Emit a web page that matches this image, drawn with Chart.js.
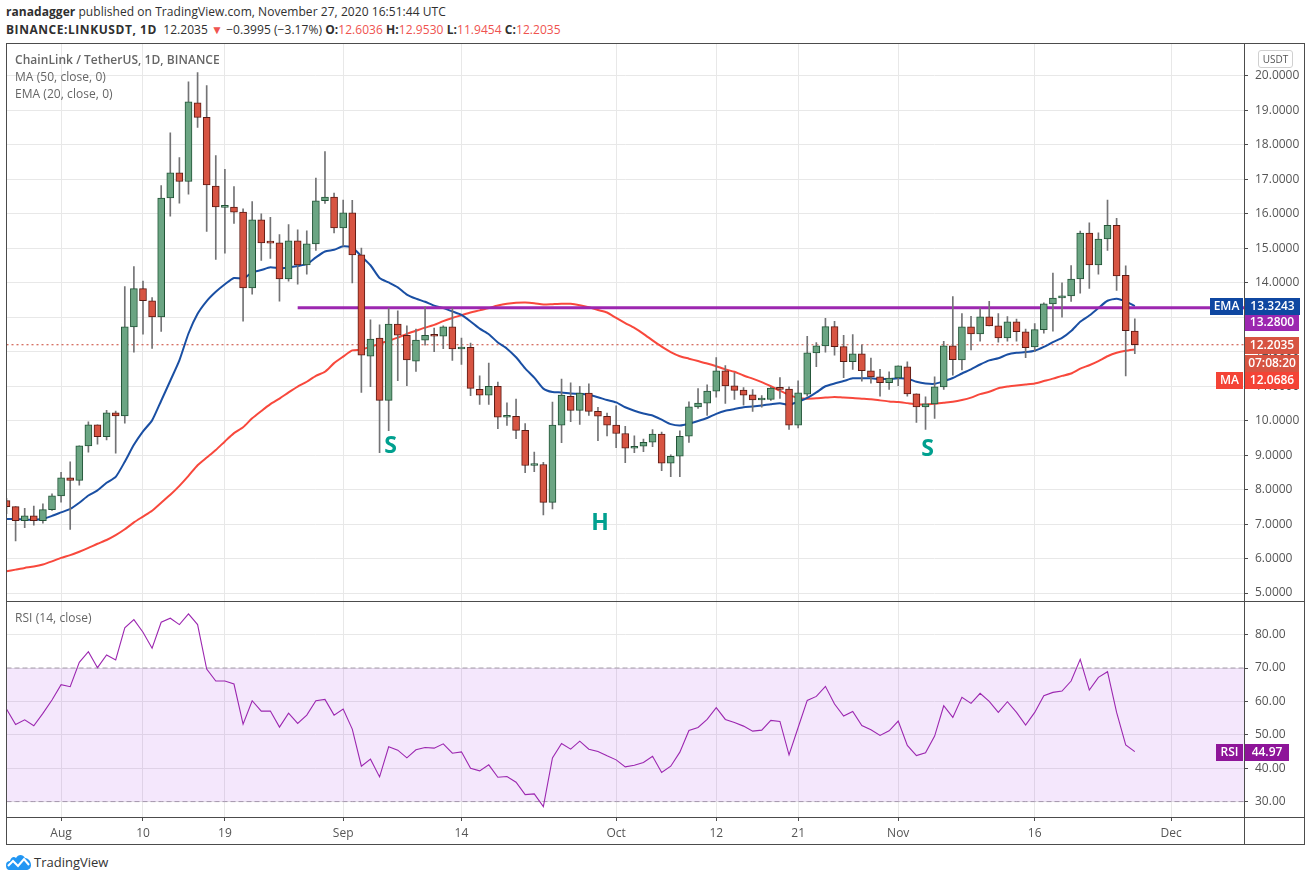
<!DOCTYPE html>
<html>
<head>
<meta charset="utf-8">
<title>LINKUSDT</title>
<script src="https://cdn.jsdelivr.net/npm/chart.js@4"></script>
<style>
  html, body { margin: 0; padding: 0; background: #fff; }
  body { width: 1311px; height: 881px; position: relative; overflow: hidden; font-family: "Open Sans", sans-serif; color: #4a4a4a; }
  canvas { position: absolute; left: 0; }
  .txt { position: absolute; white-space: nowrap; font-size: 12px; line-height: 16px; }
  .hd { color: #2f2f2f; letter-spacing: 0.05px; }
  .hd b { font-weight: 700; color: #2f2f2f; }
  .hd b.wide { letter-spacing: 0.55px; }
  .hd i { font-style: normal; color: #ef5350; }
  .lbl { color: #666; font-size: 12px; letter-spacing: 0.05px; }
  .line { position: absolute; background: #4c4c4c; }
</style>
</head>
<body>
<div class="txt hd" style="left:6px;top:4px"><b>ranadagger</b> published on TradingView.com, November 27, 2020 16:51:44 UTC</div>
<div class="txt hd" style="left:6px;top:22px"><b class="wide">BINANCE:LINKUSDT, 1D</b>&nbsp; 12.2035 <span style="color:#ef5350">▼</span> −0.3995 (−3.17%) <b>O:</b><i>12.6036</i> <b>H:</b><i>12.9530</i> <b>L:</b><i>11.9454</i> <b>C:</b><i>12.2035</i></div>
<canvas id="priceChart" width="1311" height="630" style="top:0"></canvas>
<canvas id="rsiChart" width="1311" height="845" style="top:0"></canvas>
<div class="txt lbl" style="left:15px;top:52px;font-weight:600">ChainLink / TetherUS, 1D, BINANCE</div>
<div class="txt lbl" style="left:15px;top:69px">MA (50, close, 0)</div>
<div class="txt lbl" style="left:15px;top:86px">EMA (20, close, 0)</div>
<div class="txt lbl" style="left:15px;top:610px">RSI (14, close)</div>
<div class="txt" style="left:1258px;top:50px;width:33px;height:16px;border:1px solid #d0d0d0;border-radius:3px;font-size:10px;text-align:center;color:#555">USDT</div>
<div class="line" style="left:6px;top:43px;width:1299px;height:1px"></div>
<div class="line" style="left:6px;top:844px;width:1299px;height:1px"></div>
<div class="line" style="left:6px;top:43px;width:1px;height:802px"></div>
<div class="line" style="left:1304px;top:43px;width:1px;height:802px"></div>
<div class="line" style="left:1244px;top:43px;width:1px;height:802px"></div>
<div class="line" style="left:6px;top:601px;width:1299px;height:1px"></div>
<div class="line" style="left:6px;top:817px;width:1299px;height:1px"></div>
<svg style="position:absolute;left:6px;top:854px" width="25" height="16" viewBox="0 0 25 16">
  <path d="M0 11 C0 8 2 7 4 7 C5 3 8 2 10 4 C12 0 17 0 19 4 C22 4 25 7 25 11 C25 14 23 16 20 16 L4 16 C1 16 0 14 0 11 Z" fill="#2196f3"/>
  <path d="M2 12 L7 7 L12 12 L18 5 L23 11" fill="none" stroke="#fff" stroke-width="2"/>
</svg>
<div class="txt" style="left:34px;top:854px;font-size:13px;color:#333">TradingView</div>

<script>
// candles: Jul 26 - Nov 27 2020, daily
const open = [7.68,7.51,7.10,7.24,7.10,7.42,7.82,8.34,8.27,9.27,
  9.88,9.54,10.23,10.14,12.72,13.83,13.48,13.01,16.46,17.19,
  16.94,19.22,18.80,16.81,16.19,16.20,16.05,13.85,15.83,15.16,
  15.16,14.11,15.22,14.52,15.13,16.38,16.49,15.59,16.03,14.81,
  11.87,12.40,10.59,12.80,12.48,11.73,12.34,12.48,12.45,12.72,
  12.08,12.13,10.91,10.74,11.00,10.10,10.13,9.72,8.70,8.73,
  7.63,9.87,10.71,10.30,10.80,10.27,10.13,9.87,9.63,9.20,
  9.26,9.38,9.61,8.77,8.97,9.55,10.40,10.51,10.86,11.45,
  11.01,10.89,10.75,10.60,10.62,10.95,10.92,9.87,10.77,11.97,
  12.17,12.73,12.15,11.71,11.94,11.45,11.27,11.10,11.24,11.56,
  10.78,10.40,10.49,10.98,12.17,11.76,12.72,12.52,13.01,12.75,
  12.40,12.87,12.58,12.14,12.64,13.39,13.56,13.62,14.11,15.44,
  14.52,15.27,15.67,14.22,12.6036];
const high = [7.75,7.51,7.46,7.52,7.59,7.88,8.50,8.81,9.27,9.97,
  9.88,10.30,10.28,13.89,14.47,14.05,13.57,16.82,18.35,17.63,
  19.83,20.10,19.72,17.69,17.29,16.79,16.15,16.36,16.00,15.90,
  15.40,15.69,15.54,15.51,17.04,17.81,16.60,16.40,16.39,15.01,
  12.93,12.78,13.27,13.19,12.75,12.66,13.30,12.69,12.75,13.27,
  12.40,12.25,11.30,11.67,11.12,10.52,10.63,9.92,9.09,8.79,
  10.54,11.21,11.10,11.00,11.07,10.39,10.22,10.43,9.84,9.56,
  9.47,9.74,9.67,9.01,9.71,10.55,10.93,11.04,11.83,11.60,
  11.39,10.96,10.90,10.73,10.98,11.25,10.98,11.16,12.45,12.27,
  12.97,12.88,12.48,12.50,12.20,11.82,11.49,11.42,11.59,11.71,
  10.78,10.69,11.27,12.30,13.60,13.11,13.03,13.27,13.46,13.11,
  13.02,12.95,12.66,12.82,13.42,14.28,14.00,14.50,15.50,15.74,
  15.45,16.40,15.87,14.49,12.953];
const low = [7.30,6.51,6.90,6.97,7.03,7.40,7.64,6.85,8.13,9.09,
  9.32,9.44,9.06,9.93,11.99,12.51,12.10,12.59,15.93,16.31,
  16.57,18.51,15.49,14.68,14.86,15.72,12.89,13.67,14.65,14.71,
  13.47,14.05,13.96,14.25,14.94,16.30,15.45,15.06,14.00,10.82,
  10.99,9.07,9.71,11.16,11.02,11.43,12.19,12.00,12.09,11.75,
  11.63,10.73,10.47,10.47,9.77,9.86,9.48,8.49,8.52,7.27,
  7.44,9.36,9.97,9.89,10.15,9.42,9.56,9.22,8.78,9.07,
  9.10,9.25,8.55,8.38,8.38,9.37,10.36,10.15,10.68,10.50,
  10.62,10.45,10.27,10.39,10.59,10.65,9.75,9.79,10.71,11.57,
  11.99,11.90,11.25,11.49,11.15,11.09,10.71,10.91,11.02,10.71,
  9.95,9.75,10.07,10.91,11.32,11.47,12.05,12.31,12.75,12.28,
  12.31,12.31,11.83,12.00,12.54,12.60,13.00,13.46,13.70,13.84,
  14.25,14.94,13.78,11.30,11.9454];
const close = [7.51,7.10,7.24,7.10,7.42,7.82,8.34,8.27,9.27,9.88,
  9.54,10.23,10.14,12.72,13.83,13.48,13.01,16.46,17.19,16.94,
  19.25,18.80,16.84,16.20,16.20,16.05,13.85,15.83,15.16,15.15,
  14.11,15.22,14.52,15.13,16.38,16.49,15.59,16.03,14.81,11.90,
  12.37,10.59,12.80,12.48,11.76,12.34,12.48,12.45,12.72,12.08,
  12.13,10.94,10.74,11.00,10.10,10.13,9.72,8.70,8.73,7.63,
  9.87,10.74,10.30,10.80,10.27,10.13,9.87,9.63,9.20,9.26,
  9.37,9.61,8.77,8.97,9.55,10.40,10.51,10.86,11.45,11.01,
  10.88,10.74,10.60,10.63,10.95,10.91,9.87,10.81,11.97,12.17,
  12.73,12.15,11.71,11.94,11.45,11.27,11.10,11.24,11.59,10.78,
  10.40,10.49,10.98,12.17,11.77,12.72,12.52,13.01,12.75,12.40,
  12.87,12.58,12.12,12.64,13.39,13.56,13.62,14.11,15.44,14.52,
  15.27,15.67,14.20,12.61,12.2035];
const ema20 = [7.15,7.15,7.13,7.13,7.15,7.24,7.34,7.44,7.62,7.83,
  7.98,8.20,8.37,8.81,9.30,9.69,10.01,10.58,11.16,11.75,
  12.53,13.10,13.47,13.74,13.96,14.14,14.12,14.30,14.37,14.45,
  14.42,14.45,14.49,14.54,14.74,14.91,14.96,15.06,15.03,14.77,
  14.51,14.14,14.01,13.87,13.66,13.54,13.45,13.34,13.27,13.17,
  13.07,12.88,12.67,12.51,12.27,12.09,11.84,11.52,11.25,10.93,
  10.83,10.82,10.79,10.78,10.75,10.68,10.60,10.53,10.39,10.29,
  10.21,10.15,10.03,9.90,9.86,9.91,9.99,10.08,10.20,10.29,
  10.34,10.39,10.41,10.44,10.48,10.51,10.46,10.55,10.66,10.82,
  11.00,11.08,11.15,11.23,11.23,11.23,11.21,11.21,11.23,11.22,
  11.13,11.08,11.07,11.15,11.24,11.37,11.49,11.63,11.75,11.81,
  11.92,11.97,11.99,12.03,12.14,12.28,12.40,12.60,12.87,13.05,
  13.27,13.48,13.54,13.46,13.3243];
const ma50 = [5.63,5.68,5.73,5.77,5.83,5.92,6.02,6.10,6.20,6.31,
  6.43,6.54,6.68,6.85,7.05,7.22,7.39,7.62,7.85,8.11,
  8.40,8.71,8.93,9.15,9.40,9.64,9.81,10.07,10.28,10.48,
  10.64,10.82,10.99,11.13,11.30,11.42,11.67,11.86,12.04,12.06,
  12.15,12.23,12.32,12.41,12.52,12.61,12.70,12.78,12.89,12.98,
  13.06,13.14,13.20,13.27,13.34,13.39,13.42,13.43,13.41,13.37,
  13.38,13.39,13.39,13.35,13.29,13.21,13.14,12.98,12.83,12.69,
  12.52,12.33,12.15,11.99,11.87,11.80,11.73,11.66,11.58,11.49,
  11.42,11.31,11.22,11.12,11.00,10.87,10.75,10.66,10.64,10.65,
  10.67,10.69,10.67,10.66,10.64,10.62,10.59,10.56,10.54,10.51,
  10.48,10.47,10.49,10.52,10.55,10.60,10.67,10.77,10.84,10.94,
  10.99,11.02,11.05,11.08,11.15,11.22,11.30,11.37,11.51,11.61,
  11.73,11.87,11.97,12.03,12.0686];
const rsi14 = [57.7,53.1,54.5,52.7,56.4,60.4,65.0,64.4,71.7,74.9,
  70.1,73.9,72.4,82.0,84.5,80.7,75.9,83.7,84.9,83.0,
  86.2,83.0,69.7,66.1,66.1,65.2,53.2,60.2,57.1,57.1,
  52.3,56.5,53.4,55.9,60.2,60.6,55.9,57.7,51.7,40.6,
  42.7,37.4,46.4,45.4,43.1,45.5,46.2,46.0,47.3,44.5,
  44.9,40.0,39.2,41.0,37.3,37.5,35.8,32.1,32.3,28.5,
  43.1,47.4,45.7,48.1,45.7,45.0,43.7,42.5,40.4,40.9,
  41.7,43.6,38.7,40.6,44.8,51.3,52.2,54.6,58.1,54.6,
  53.7,52.6,51.1,51.4,54.3,54.0,44.0,52.2,60.3,61.5,
  64.5,59.2,55.6,57.0,52.8,51.5,49.8,51.2,54.1,46.8,
  43.8,44.6,49.6,58.7,55.2,61.2,59.4,62.4,60.0,56.7,
  59.9,56.7,52.9,56.7,61.7,62.7,63.1,66.1,72.6,63.4,
  67.2,68.9,56.7,47.0,44.97];

const resistance = 13.28;
const lastPrice = 12.2035;
const rsiUpper = 70;
const rsiLower = 30;
const priceTicks = [20,19,18,17,16,15,14,13,12,11,10,9,8,7,6,5];
const rsiTicks = [80,70,60,50,40,30];
const tickDates = ['08-01','08-10','08-19','09-01','09-14','10-01','10-12','10-21','11-01','11-16','12-01'];
const tickLabels = ['Aug','10','19','Sep','14','Oct','12','21','Nov','16','Dec'];
const patternLabels = ['S','H','S'];
const patternDates = ['09-06','09-29','11-04'];
const patternPrices = [9.24,7.03,9.18];

// daily categories, the axis runs on past the last candle
const days = [];
for (let d = new Date(Date.UTC(2020, 6, 26)); d <= new Date(Date.UTC(2020, 11, 9)); d.setUTCDate(d.getUTCDate() + 1)) {
  days.push(d.toISOString().slice(5, 10));
}

const FONT = '"Open Sans", sans-serif';
const GRID = '#e8e8e8';
const AXIS = '#4c4c4c';
const UP = '#6ba583', UP_B = '#225437', DOWN = '#d75442', DOWN_B = '#5b1a13', WICK = '#737375';

function xScale(showTicks) {
  return {
    type: 'category',
    offset: false,
    grid: { offset: false, color: GRID, tickColor: AXIS, drawTicks: showTicks, tickLength: 4 },
    border: { display: false },
    afterBuildTicks: a => { a.ticks = tickDates.map(d => ({ value: days.indexOf(d) })); },
    afterFit: a => { a.height = showTicks ? 28 : 0; },
    ticks: {
      display: showTicks, autoSkip: false, maxRotation: 0, color: '#555', padding: 5,
      font: { family: FONT, size: 12 },
      callback: (v, i) => tickLabels[i]
    }
  };
}

function yScale(min, max, ticks, fmt) {
  return {
    position: 'right', min: min, max: max,
    grid: { color: GRID, tickColor: AXIS, tickLength: 4 },
    border: { display: false },
    afterBuildTicks: a => { a.ticks = ticks.map(v => ({ value: v })); },
    afterFit: a => { a.width = 60; },
    ticks: { color: '#555', padding: 7, align: 'center', font: { family: FONT, size: 12 }, callback: v => v.toFixed(fmt) }
  };
}

function tag(ctx, x, y, w, h, color, text, font) {
  ctx.fillStyle = color;
  ctx.fillRect(x, y, w, h);
  ctx.fillStyle = '#fff';
  ctx.font = font || ('600 12px ' + FONT);
  ctx.textAlign = 'center';
  ctx.textBaseline = 'middle';
  ctx.fillText(text, x + w / 2, y + h / 2);
}

const priceTags = {
  id: 'priceTags',
  afterDraw(chart) {
    const c = chart.ctx;
    const x = chart.scales.x, y = chart.scales.y;
    c.save();
    patternLabels.forEach((t, i) => {
      c.fillStyle = '#00a08f';
      c.font = '700 23px ' + FONT;
      c.textAlign = 'center';
      c.textBaseline = 'middle';
      c.fillText(t, x.getPixelForValue(days.indexOf(patternDates[i])) + 2, y.getPixelForValue(patternPrices[i]));
    });
    const ey = Math.round(y.getPixelForValue(13.3243));
    tag(c, 1210, ey - 8, 33, 17, '#0f47a1', 'EMA');
    tag(c, 1245, ey - 8, 55, 17, '#0f47a1', '13.3243');
    tag(c, 1245, 315, 54, 16, '#9c27b0', resistance.toFixed(4));
    tag(c, 1245, 337, 54, 17, '#d75442', lastPrice.toFixed(4));
    tag(c, 1245, 355, 54, 17, '#d75442', '07:08:20');
    tag(c, 1216, 372, 27, 17, '#f44336', 'MA');
    tag(c, 1245, 372, 54, 17, '#f44336', '12.0686');
    c.restore();
  }
};

const rsiTags = {
  id: 'rsiTags',
  afterDraw(chart) {
    const c = chart.ctx;
    const py = Math.round(chart.scales.y.getPixelForValue(44.97));
    c.save();
    tag(c, 1216, py - 8, 27, 17, '#8e1599', 'RSI');
    tag(c, 1245, py - 8, 44, 17, '#8e1599', '44.97');
    c.restore();
  }
};

const priceChart = new Chart(document.getElementById('priceChart'), {
  type: 'bar',
  plugins: [priceTags],
  data: {
    labels: days,
    datasets: [
      { label: 'Body', order: 0, grouped: false, barThickness: 7, data: open.map((o, i) => [o, close[i]]), backgroundColor: open.map((o, i) => close[i] >= o ? UP : DOWN), borderColor: open.map((o, i) => close[i] >= o ? UP_B : DOWN_B), borderWidth: 1, borderSkipped: false, minBarLength: 2 },
      { label: 'Wick', order: 1, grouped: false, barThickness: 1, data: low.map((l, i) => [l, high[i]]), backgroundColor: WICK, borderWidth: 0 },
      { type: 'line', label: 'Resistance', order: 2, data: [{ x: days[32], y: resistance }, { x: days[days.length - 1], y: resistance }], borderColor: '#9c27b0', borderWidth: 3, pointRadius: 0 },
      { type: 'line', label: 'EMA', order: 3, data: ema20, borderColor: '#1a4fa3', borderWidth: 2, pointRadius: 0, tension: 0.2 },
      { type: 'line', label: 'MA', order: 4, data: ma50, borderColor: '#f8483c', borderWidth: 2, pointRadius: 0, tension: 0.2 },
      { type: 'line', label: 'Last', order: 5, data: [{ x: days[0], y: lastPrice }, { x: days[days.length - 1], y: lastPrice }], borderColor: '#c8402f', borderWidth: 1, borderDash: [2, 3], pointRadius: 0 }
    ]
  },
  options: {
    responsive: false,
    animation: false,
    events: [],
    layout: { autoPadding: false, padding: { left: 6.5, right: 7, top: 44, bottom: 17 } },
    plugins: { legend: { display: false }, tooltip: { enabled: false } },
    scales: { x: xScale(false), y: yScale(4.77, 20.928, priceTicks, 4) }
  }
});
// the hidden x axis still takes some room, so pull the plot bottom back to the pane line
priceChart.options.layout.padding.bottom += priceChart.chartArea.bottom - 601;
priceChart.update();

new Chart(document.getElementById('rsiChart'), {
  type: 'line',
  plugins: [rsiTags],
  data: {
    labels: days,
    datasets: [
      { label: 'RSI', order: 0, data: rsi14, borderColor: '#9c27b0', borderWidth: 1.1, pointRadius: 0, tension: 0 },
      { label: 'Upper', order: 1, data: days.map(() => rsiUpper), borderColor: '#a59ca9', borderWidth: 1, borderDash: [5, 3], pointRadius: 0, fill: '+1', backgroundColor: 'rgba(156,39,230,0.11)' },
      { label: 'Lower', order: 2, data: days.map(() => rsiLower), borderColor: '#a59ca9', borderWidth: 1, borderDash: [5, 3], pointRadius: 0 }
    ]
  },
  options: {
    responsive: false,
    animation: false,
    events: [],
    layout: { autoPadding: false, padding: { left: 6.5, right: 7, top: 601, bottom: 0 } },
    plugins: { legend: { display: false }, tooltip: { enabled: false } },
    scales: { x: xScale(true), y: yScale(25.39, 90.06, rsiTicks, 2) }
  }
});
</script>
</body>
</html>
